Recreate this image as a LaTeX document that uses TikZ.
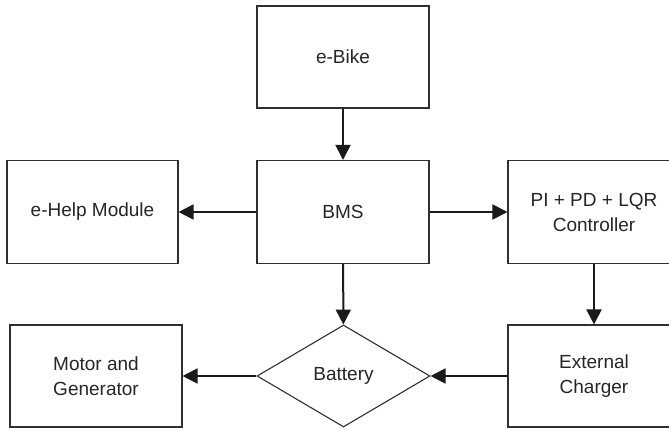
\documentclass[tikz,border=0pt]{standalone}
\usepackage{fontspec}
\setmainfont{Liberation Sans}
\usetikzlibrary{arrows.meta,shapes.geometric}
\definecolor{boxline}{HTML}{303030}
\definecolor{arrcol}{HTML}{1A1A1A}
\tikzset{
  blk/.style={draw=boxline, line width=1.1pt, rectangle, minimum width=172pt, minimum height=102pt, inner sep=0pt, align=center, text=black!85, font=\fontsize{19}{25}\selectfont},
  dia/.style={draw=boxline, line width=1.1pt, diamond, minimum width=173pt, minimum height=102pt, inner sep=0pt, text=black!85, font=\fontsize{19}{25}\selectfont},
  arr/.style={draw=arrcol, line width=2pt, -{Triangle[length=15pt,width=15pt]}}
}
\begin{document}
\begin{tikzpicture}[x=1pt,y=-1pt]
\clip (0,0) rectangle (669,430);
\fill[white] (0,0) rectangle (669,430);
\node[blk] (ebike) at (343,57) {e-Bike};
\node[blk, minimum height=103pt] (bms) at (343,212) {BMS};
\node[blk, minimum width=171pt, minimum height=103pt] (help) at (92.5,212) {e-Help Module};
\node[blk, minimum height=103pt] (ctrl) at (594,212) {PI + PD + LQR\\Controller};
\node[blk] (motor) at (96,376) {Motor and\\Generator};
\node[dia] (batt) at (343.5,376) {Battery};
\node[blk] (chg) at (594,376) {External\\Charger};
\draw[arr] (ebike) -- (bms);
\draw[arr] (bms) -- (help);
\draw[arr] (bms) -- (ctrl);
\draw[arr] (bms) -- (batt);
\draw[arr] (ctrl) -- (chg);
\draw[arr] (chg.west) -- (batt.east);
\draw[arr] (batt.west) -- (motor.east);
\end{tikzpicture}
\end{document}
